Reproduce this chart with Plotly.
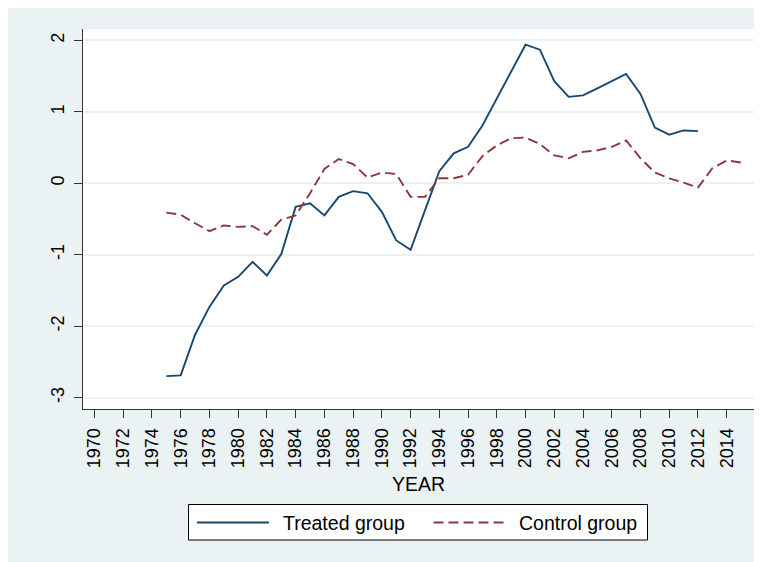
import plotly.graph_objects as go

# ---------------- data ----------------
years_treated = list(range(1975, 2013))
treated = [-2.70, -2.69, -2.12, -1.73, -1.43, -1.31, -1.10, -1.29, -0.99, -0.33,
           -0.28, -0.45, -0.19, -0.11, -0.14, -0.40, -0.80, -0.93, -0.38, 0.17,
           0.42, 0.51, 0.81, 1.19, 1.55, 1.94, 1.87, 1.43, 1.21, 1.23,
           1.33, 1.43, 1.53, 1.25, 0.78, 0.68, 0.74, 0.73]

years_control = list(range(1975, 2016))
control = [-0.41, -0.44, -0.56, -0.67, -0.59, -0.61, -0.60, -0.72, -0.51, -0.45,
           -0.14, 0.20, 0.34, 0.27, 0.08, 0.15, 0.13, -0.19, -0.19, 0.07,
           0.07, 0.12, 0.38, 0.53, 0.63, 0.64, 0.55, 0.39, 0.35, 0.44,
           0.46, 0.51, 0.60, 0.35, 0.15, 0.07, 0.01, -0.06, 0.21, 0.32, 0.29]

x_ticks = list(range(1970, 2015, 2))
y_ticks = [-3, -2, -1, 0, 1, 2]
series_names = ["Treated group", "Control group"]
x_title = "YEAR"

# ---------------- style ----------------
# the page body keeps its default 8px margin, which gives the white border
OFF = 8
W, H = 762 - OFF, 562 - OFF
ML, MR, MT, MB = 75, 8, 21, 153
PW, PH = W - ML - MR, H - MT - MB
BG = "#EAF2F3"
C_T = "#1A476F"
C_C = "#90353B"
DASH = "10px,5px"
FONT = "Liberation Sans, Arial, sans-serif"


def px(x):
    # x in screen pixels of the 762x562 window
    return (x - OFF - ML) / PW


def py(y):
    return (H - MB - (y - OFF)) / PH


fig = go.Figure()
fig.add_trace(go.Scatter(x=years_treated, y=treated, mode="lines", name=series_names[0],
                         line=dict(color=C_T, width=1.9), showlegend=False))
fig.add_trace(go.Scatter(x=years_control, y=control, mode="lines", name=series_names[1],
                         line=dict(color=C_C, width=1.9, dash=DASH), showlegend=False))

shapes = [
    # legend box
    dict(type="rect", xref="paper", yref="paper", x0=px(188.5), x1=px(647.5), y0=py(540), y1=py(504.5),
         fillcolor="white", line=dict(color="black", width=1), layer="above"),
    dict(type="line", xref="paper", yref="paper", x0=px(197), x1=px(269), y0=py(522.5), y1=py(522.5),
         line=dict(color=C_T, width=1.9), layer="above"),
    dict(type="line", xref="paper", yref="paper", x0=px(433.5), x1=px(507.5), y0=py(522.5), y1=py(522.5),
         line=dict(color=C_C, width=1.9, dash=DASH), layer="above"),
]

annotations = [
    dict(text=series_names[0], xref="paper", yref="paper", x=px(281), y=py(522.5),
         xanchor="left", yanchor="middle", showarrow=False,
         font=dict(family=FONT, size=19.5, color="black")),
    dict(text=series_names[1], xref="paper", yref="paper", x=px(517), y=py(522.5),
         xanchor="left", yanchor="middle", showarrow=False,
         font=dict(family=FONT, size=19.5, color="black")),
]

fig.update_layout(
    width=W, height=H,
    margin=dict(l=ML, r=MR, t=MT, b=MB, pad=0),
    paper_bgcolor=BG, plot_bgcolor="white",
    font=dict(family=FONT, color="black", size=18),
    showlegend=False,
    shapes=shapes, annotations=annotations,
)

fig.update_xaxes(
    range=[1969.2, 2015.9], tickmode="array", tickvals=x_ticks,
    ticktext=[str(v) for v in x_ticks], tickangle=-90,
    ticks="outside", ticklen=8, tickcolor="#333333", tickwidth=1,
    showline=True, linecolor="#333333", linewidth=1,
    showgrid=False, zeroline=False,
    tickfont=dict(size=18), ticklabelstandoff=3,
    title=dict(text=x_title, font=dict(size=19.5), standoff=10),
)
fig.update_yaxes(
    range=[-3.16, 2.16], tickmode="array", tickvals=y_ticks,
    ticktext=[str(v) for v in y_ticks], tickangle=-90,
    ticks="outside", ticklen=8, tickcolor="#333333", tickwidth=1,
    showline=True, linecolor="#333333", linewidth=1,
    showgrid=True, gridcolor=BG, gridwidth=1.5, zeroline=False,
    tickfont=dict(size=18), ticklabelstandoff=3,
)

fig.write_html("out.html")
